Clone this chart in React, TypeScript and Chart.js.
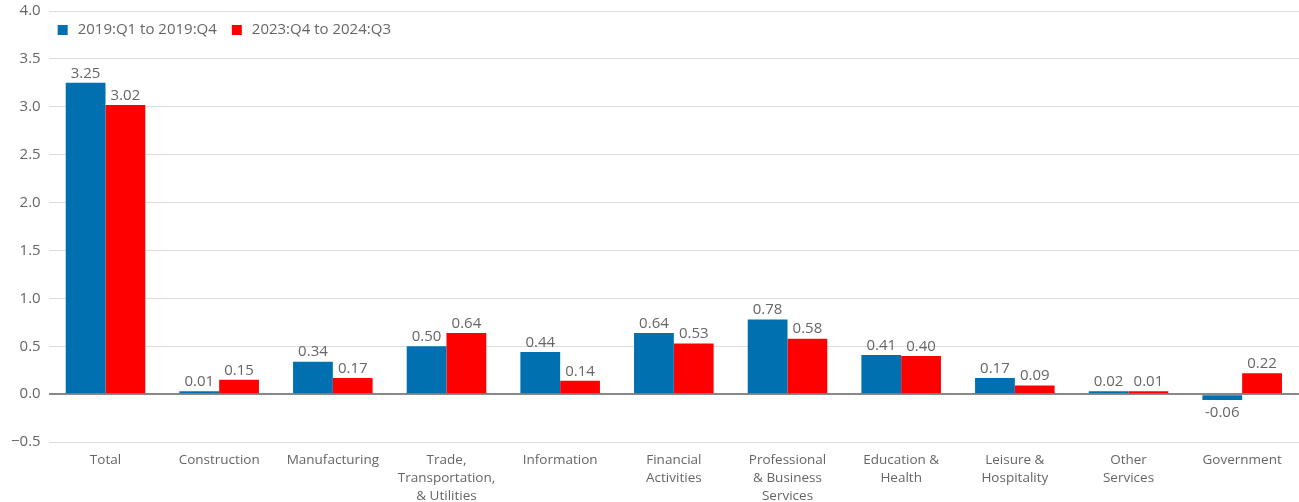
import React, { useEffect, useRef } from "react";
import { Chart, registerables } from "chart.js";

Chart.register(...registerables);

const categories: (string | string[])[] = [
  "Total",
  "Construction",
  "Manufacturing",
  ["Trade,", "Transportation,", "& Utilities"],
  "Information",
  ["Financial", "Activities"],
  ["Professional", "& Business", "Services"],
  ["Education &", "Health"],
  ["Leisure &", "Hospitality"],
  ["Other", "Services"],
  "Government",
];
const series2019 = [3.25, 0.01, 0.34, 0.5, 0.44, 0.64, 0.78, 0.41, 0.17, 0.02, -0.06];
const series2024 = [3.02, 0.15, 0.17, 0.64, 0.14, 0.53, 0.58, 0.4, 0.09, 0.01, 0.22];
const seriesNames = ["2019:Q1 to 2019:Q4", "2023:Q4 to 2024:Q3"];
const seriesColors = ["#0070b0", "#ff0000"];

const FONT = "'Open Sans', 'Noto Sans', sans-serif";
const TEXT = "#666666";
const SIZE = 13.5;
const BIG = 15;

const valueLabels = {
  id: "valueLabels",
  afterDatasetsDraw(chart: any) {
    const ctx = chart.ctx;
    ctx.save();
    ctx.font = `${BIG}px ${FONT}`;
    ctx.fillStyle = TEXT;
    ctx.textAlign = "center";
    const zeroY = chart.scales.y.getPixelForValue(0);
    chart.data.datasets.forEach((ds: any, di: number) => {
      const meta = chart.getDatasetMeta(di);
      meta.data.forEach((bar: any, i: number) => {
        const v = ds.data[i];
        const txt = v.toFixed(2);
        if (v >= 0) {
          ctx.textBaseline = "bottom";
          ctx.fillText(txt, bar.x, Math.min(bar.y, zeroY - 2) - 2);
        } else {
          ctx.textBaseline = "top";
          ctx.fillText(txt, bar.x, bar.y + 5);
        }
      });
    });
    ctx.restore();
  },
};

const insideLegend = {
  id: "insideLegend",
  afterDraw(chart: any) {
    const ctx = chart.ctx;
    const area = chart.chartArea;
    ctx.save();
    ctx.font = `${BIG}px ${FONT}`;
    ctx.textBaseline = "middle";
    ctx.textAlign = "left";
    let x = area.left + 9;
    const y = area.top + 19;
    chart.data.datasets.forEach((ds: any) => {
      ctx.fillStyle = ds.backgroundColor;
      ctx.fillRect(x, y - 5, 10, 10);
      ctx.fillStyle = TEXT;
      ctx.fillText(ds.label, x + 20, y);
      x += 20 + ctx.measureText(ds.label).width + 15;
    });
    ctx.restore();
  },
};

export default function App() {
  const ref = useRef<HTMLCanvasElement | null>(null);
  useEffect(() => {
    document.body.style.margin = "0";
    if (!ref.current) return;
    const chart = new Chart(ref.current, {
      type: "bar",
      data: {
        labels: categories,
        datasets: [
          {
            label: seriesNames[0],
            data: series2019,
            backgroundColor: seriesColors[0],
            barPercentage: 1,
            categoryPercentage: 0.7,
            minBarLength: 3,
          },
          {
            label: seriesNames[1],
            data: series2024,
            backgroundColor: seriesColors[1],
            barPercentage: 1,
            categoryPercentage: 0.7,
            minBarLength: 3,
          },
        ],
      },
      options: {
        animation: false,
        responsive: false,
        maintainAspectRatio: false,
        layout: { padding: { top: 0, right: 0, left: 3, bottom: -12 } },
        plugins: {
          legend: { display: false },
          tooltip: { enabled: false },
        },
        scales: {
          x: {
            grid: { display: false, drawTicks: false },
            border: { display: false },
            ticks: {
              color: TEXT,
              font: { family: FONT, size: SIZE, lineHeight: 1.33 },
              maxRotation: 0,
              autoSkip: false,
              padding: 9,
            },
          },
          y: {
            min: -0.5,
            max: 4,
            border: { display: false },
            grid: {
              drawTicks: false,
              color: (c: any) => (c.tick && c.tick.value === 0 ? "#888888" : "#dddddd"),
              lineWidth: (c: any) => (c.tick && c.tick.value === 0 ? 2 : 1),
            },
            ticks: {
              stepSize: 0.5,
              color: TEXT,
              padding: 8,
              font: { family: FONT, size: BIG },
              callback: (v: any) => Number(v).toFixed(1).replace("-", "\u2212"),
            },
          },
        },
      },
      plugins: [valueLabels, insideLegend],
    });
    return () => chart.destroy();
  }, []);
  return (
    <div style={{ width: 1299, height: 502, overflow: "hidden" }}>
      <canvas
        ref={ref}
        width={1299}
        height={508}
        style={{ display: "block", marginTop: -6 }}
      />
    </div>
  );
}
